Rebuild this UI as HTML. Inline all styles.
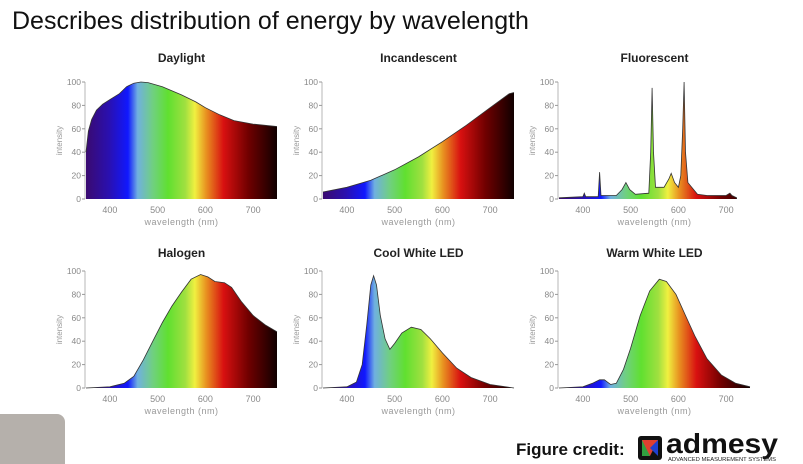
<!DOCTYPE html>
<html><head><meta charset="utf-8"><style>
body{margin:0;background:#fff;width:803px;height:464px;overflow:hidden;font-family:"Liberation Sans",sans-serif}
svg{position:absolute;left:0;top:0}
</style></head><body>
<svg id="s" width="803" height="464" xmlns="http://www.w3.org/2000/svg">
<defs>
<linearGradient id="spec" x1="0" x2="1" y1="0" y2="0">
<stop offset="0" stop-color="#3a0a70"/>
<stop offset="0.12" stop-color="#2a10b0"/>
<stop offset="0.22" stop-color="#1018ff"/>
<stop offset="0.27" stop-color="#70b0e0"/>
<stop offset="0.35" stop-color="#70d080"/>
<stop offset="0.43" stop-color="#60e030"/>
<stop offset="0.52" stop-color="#a0e040"/>
<stop offset="0.57" stop-color="#f0f040"/>
<stop offset="0.63" stop-color="#e89020"/>
<stop offset="0.72" stop-color="#d81010"/>
<stop offset="0.85" stop-color="#700000"/>
<stop offset="1" stop-color="#100000"/>
</linearGradient>
</defs>
<text x="12" y="29" font-size="25" fill="#111">Describes distribution of energy by wavelength</text>
<rect x="-10" y="414" width="75" height="60" rx="8" fill="#b5b0ab"/>
<text x="516" y="455" font-size="17" font-weight="bold" fill="#111">Figure credit:</text>
<rect x="638" y="436" width="24" height="24" rx="3" fill="#111"/>
<polygon points="642,440 658,440 650,456 642,456" fill="#e04030"/>
<polygon points="642,440 650,456 642,456" fill="#30a040"/>
<polygon points="650,448 658,440 658,456" fill="#2040d0"/>
<text x="666" y="453" font-size="28" font-weight="bold" fill="#111" textLength="112" lengthAdjust="spacingAndGlyphs">admesy</text>
<text x="668" y="461" font-size="5.5" fill="#222" textLength="108" lengthAdjust="spacingAndGlyphs">ADVANCED MEASUREMENT SYSTEMS</text>
</svg>
<script>
const S=document.getElementById('s');
const charts=[
["Daylight",0,0,[[350,40],[355,58],[362,68],[372,76],[385,81],[400,85],[420,90],[435,96],[450,99],[465,100],[480,99.5],[510,96],[550,89],[580,83],[600,78],[630,72],[660,67],[700,64],[750,62]]],
["Incandescent",237,0,[[350,6],[400,10],[450,16],[500,25],[550,36],[600,49],[650,63],[700,78],[740,90],[750,91]]],
["Fluorescent",473,0,[[350,1],[400,2],[403,5],[406,2],[432,2],[435,23],[438,3],[470,3],[482,8],[490,14],[498,8],[510,4],[538,5],[542,40],[545,95],[548,40],[552,10],[570,10],[580,17],[585,22],[592,14],[600,10],[605,20],[609,60],[612,100],[615,40],[620,14],[628,10],[640,4],[660,3],[700,3],[708,5],[712,3],[722,1],[722,0]]],
["Halogen",0,189,[[350,0],[400,1],[430,4],[450,10],[470,24],[490,40],[510,56],[530,70],[550,82],[570,93],[590,97],[605,95],[620,91],[640,90],[655,86],[675,74],[700,62],[725,54],[750,48]]],
["Cool White LED",237,189,[[350,0],[400,1],[420,5],[432,20],[442,55],[450,88],[456,96],[462,88],[470,62],[480,42],[490,33],[500,38],[515,47],[535,52],[555,50],[575,42],[600,30],[630,17],[660,9],[700,3],[750,0]]],
["Warm White LED",473,189,[[350,0],[400,1],[420,4],[435,7],[445,7],[458,3],[470,4],[485,16],[500,34],[520,62],[540,83],[560,93],[575,91],[595,80],[615,62],[635,44],[660,25],[690,11],[720,4],[750,1]]]
];
let h='';
charts.forEach(([t,dx,dy,pts],i)=>{
 const X=w=>86+dx+(w-350)*0.4775, Y=v=>199+dy-v*1.17;
 const x0=X(350),x1=X(750),y0=Y(0);
 h+=`<text x="${(x0+x1)/2}" y="${62+dy+(dy?6:0)}" font-size="12" font-weight="bold" text-anchor="middle" fill="#222">${t}</text>`;
 let d=`M${X(pts[0][0])},${y0}`;pts.forEach(p=>d+=`L${X(p[0]).toFixed(1)},${Y(p[1]).toFixed(1)}`);
 d+=`L${X(pts[pts.length-1][0])},${y0}Z`;
 h+=`<clipPath id="c${i}"><path d="${d}"/></clipPath>`;
 h+=`<rect x="${x0}" y="${Y(101)}" width="${x1-x0}" height="${y0-Y(101)}" fill="url(#spec)" clip-path="url(#c${i})"/>`;
 let l='';pts.forEach((p,j)=>l+=(j?'L':'M')+X(p[0]).toFixed(1)+','+Y(p[1]).toFixed(1));
 h+=`<path d="${l}" fill="none" stroke="#333" stroke-width="0.8"/>`;
 h+=`<line x1="${x0-1}" y1="${Y(0)}" x2="${x0-1}" y2="${Y(100)}" stroke="#999" stroke-width="0.7"/>`;
 for(let v=0;v<=100;v+=20){h+=`<line x1="${x0-4}" x2="${x0-1}" y1="${Y(v)}" y2="${Y(v)}" stroke="#999"/><text x="${x0-5}" y="${Y(v)+3}" font-size="8.5" fill="#888" text-anchor="end">${v}</text>`;}
 [400,500,600,700].forEach(w=>h+=`<text x="${X(w)}" y="${y0+14}" font-size="9" fill="#888" text-anchor="middle">${w}</text>`);
 h+=`<text x="${(x0+x1)/2}" y="${y0+26}" font-size="9" fill="#999" text-anchor="middle" letter-spacing="0.5">wavelength (nm)</text>`;
 h+=`<text transform="translate(${x0-24},${Y(50)}) rotate(-90)" font-size="8" fill="#999" text-anchor="middle">intensity</text>`;
});
S.insertAdjacentHTML('beforeend',h);
</script>
</body></html>
